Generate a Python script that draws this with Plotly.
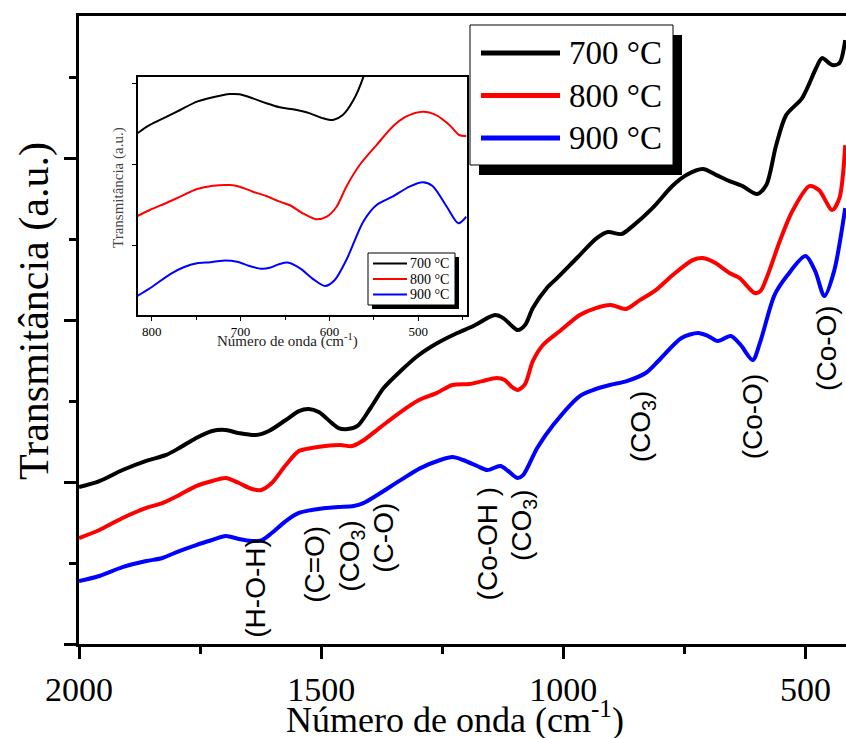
import plotly.graph_objects as go

# ---------------- main spectra (offset per calcination temperature) ----------------
wn_700 = [2000, 1958, 1910, 1861, 1820, 1793, 1758, 1725, 1697, 1670, 1635, 1608, 1573, 1546, 1526,
          1505, 1478, 1464, 1445, 1425, 1398, 1371, 1336, 1301, 1260, 1219, 1186, 1157, 1141, 1124,
          1106, 1094, 1079, 1063, 1034, 1013, 972, 931, 908, 880, 857, 816, 775, 746, 712,
          684, 657, 630, 600, 581, 561, 540, 507, 478, 466, 445, 430, 418]
t_700 = [0.969, 1.006, 1.074, 1.130, 1.167, 1.210, 1.272, 1.315, 1.321, 1.302, 1.290, 1.315, 1.383, 1.438, 1.451,
         1.432, 1.364, 1.333, 1.327, 1.346, 1.457, 1.580, 1.685, 1.778, 1.858, 1.920, 1.963, 2.012, 2.031, 2.012,
         1.963, 1.938, 1.969, 2.074, 2.198, 2.259, 2.383, 2.506, 2.543, 2.531, 2.580, 2.691, 2.827, 2.895, 2.932,
         2.895, 2.858, 2.827, 2.778, 2.833, 3.074, 3.265, 3.370, 3.556, 3.617, 3.574, 3.586, 3.728]

wn_800 = [2000, 1958, 1910, 1861, 1828, 1793, 1758, 1725, 1697, 1670, 1643, 1624, 1602, 1573, 1546,
          1520, 1491, 1460, 1436, 1415, 1380, 1339, 1298, 1262, 1229, 1194, 1167, 1138, 1121, 1106,
          1094, 1079, 1063, 1042, 1007, 966, 933, 902, 871, 842, 809, 774, 733, 712, 686,
          657, 636, 605, 593, 578, 553, 527, 492, 472, 445, 430, 418]
t_800 = [0.654, 0.704, 0.778, 0.840, 0.870, 0.920, 0.975, 1.006, 1.025, 0.994, 0.957, 0.951, 0.994, 1.105, 1.191,
         1.210, 1.222, 1.228, 1.222, 1.253, 1.333, 1.426, 1.506, 1.549, 1.599, 1.605, 1.623, 1.642, 1.630, 1.586,
         1.568, 1.605, 1.747, 1.846, 1.932, 2.031, 2.074, 2.093, 2.068, 2.123, 2.185, 2.278, 2.370, 2.383, 2.352,
         2.290, 2.259, 2.167, 2.179, 2.278, 2.488, 2.673, 2.827, 2.802, 2.679, 2.753, 3.080]

wn_900 = [2000, 1958, 1910, 1861, 1828, 1793, 1758, 1725, 1697, 1670, 1643, 1622, 1602, 1573, 1546,
          1520, 1491, 1464, 1433, 1413, 1384, 1336, 1295, 1254, 1229, 1207, 1178, 1157, 1130, 1114,
          1095, 1083, 1054, 1021, 966, 939, 904, 869, 830, 804, 756, 722, 701, 681, 654,
          634, 609, 593, 564, 537, 500, 480, 461, 441, 418]
t_900 = [0.389, 0.420, 0.475, 0.512, 0.531, 0.574, 0.611, 0.642, 0.667, 0.648, 0.636, 0.642, 0.685, 0.759, 0.809,
         0.827, 0.840, 0.846, 0.852, 0.870, 0.920, 1.012, 1.086, 1.136, 1.154, 1.136, 1.099, 1.074, 1.099, 1.068,
         1.025, 1.043, 1.210, 1.352, 1.531, 1.568, 1.599, 1.623, 1.673, 1.747, 1.889, 1.920, 1.901, 1.870, 1.901,
         1.846, 1.753, 1.870, 2.154, 2.278, 2.395, 2.302, 2.148, 2.302, 2.691]

# ---------------- inset: 816-446 cm-1 region, own vertical scale ----------------
wn_in_700 = [816, 802, 783, 768, 749, 731, 712, 701, 686, 671, 656, 641, 622, 607, 596, 585, 573, 562, 555]
t_in_700 = [2.383, 2.485, 2.587, 2.669, 2.771, 2.825, 2.865, 2.861, 2.812, 2.751, 2.702, 2.677, 2.628,
            2.567, 2.546, 2.607, 2.791, 3.070, 3.340]

wn_in_800 = [816, 802, 783, 768, 749, 731, 712, 701, 686, 671, 656, 645, 630, 615, 603,
             592, 581, 566, 547, 529, 514, 495, 480, 465, 454, 446]
t_in_800 = [1.368, 1.442, 1.531, 1.605, 1.699, 1.740, 1.748, 1.728, 1.666, 1.613, 1.544, 1.503, 1.401, 1.328, 1.360,
            1.482, 1.728, 1.994, 2.239, 2.464, 2.587, 2.648, 2.607, 2.485, 2.362, 2.350]

wn_in_900 = [816, 802, 779, 764, 749, 734, 720, 704, 690, 676, 667, 656, 646, 633, 618,
             605, 594, 581, 562, 547, 529, 510, 495, 484, 468, 455, 446]
t_in_900 = [0.387, 0.481, 0.656, 0.739, 0.788, 0.800, 0.820, 0.807, 0.755, 0.721, 0.734, 0.779, 0.795, 0.726, 0.591,
            0.509, 0.583, 0.828, 1.298, 1.503, 1.605, 1.728, 1.782, 1.736, 1.482, 1.279, 1.360]

series_names = ["700 °C", "800 °C", "900 °C"]
series_colors = ["#000000", "#ff0000", "#0000ff"]

# band assignments: (label, wavenumber, vertical position)
band_labels = ["(H-O-H)", "(C=O)", "(CO<sub>3</sub>)", "(C-O)", "(Co-OH )", "(CO<sub>3</sub>)",
               "(CO<sub>3</sub>)", "(Co-O)", "(Co-O)"]
band_wn = [1635, 1513, 1439, 1373, 1157, 1081, 835, 610, 458]
band_y = [0.346, 0.494, 0.543, 0.654, 0.623, 0.735, 1.346, 1.407, 1.827]

x_title = "Número de onda (cm<sup>-1</sup>)"
y_title = "Transmitância (a.u.)"

SERIF = "Liberation Serif"
SANS = "Liberation Sans"

W, H = 846, 738
ML, MR, MT, MB = 79, 0, 16, 94
PW, PH = W - ML - MR, H - MT - MB


def px_x(x):
    return (x - ML) / PW


def px_y(y):
    return (H - MB - y) / PH


fig = go.Figure()

main_sets = [(wn_700, t_700), (wn_800, t_800), (wn_900, t_900)]
inset_sets = [(wn_in_700, t_in_700), (wn_in_800, t_in_800), (wn_in_900, t_in_900)]

for (wx, ty), name, col in zip(main_sets, series_names, series_colors):
    fig.add_trace(go.Scatter(x=wx, y=ty, mode="lines", name=name, showlegend=False,
                             line=dict(color=col, width=4, shape="spline", smoothing=0.8),
                             xaxis="x", yaxis="y"))

for (wx, ty), name, col in zip(inset_sets, series_names, series_colors):
    fig.add_trace(go.Scatter(x=wx, y=ty, mode="lines", name=name, showlegend=False,
                             line=dict(color=col, width=2, shape="spline", smoothing=0.8),
                             xaxis="x2", yaxis="y2"))

shapes = []
annotations = []

# main legend box with drop shadow
shapes.append(dict(type="rect", xref="paper", yref="paper", x0=px_x(479), x1=px_x(682),
                   y0=px_y(175), y1=px_y(35), fillcolor="black", line=dict(width=0)))
shapes.append(dict(type="rect", xref="paper", yref="paper", x0=px_x(470), x1=px_x(673),
                   y0=px_y(165), y1=px_y(25), fillcolor="white", line=dict(color="black", width=1)))
for i, (name, col) in enumerate(zip(series_names, series_colors)):
    yy = 53 + i * 42.5
    shapes.append(dict(type="line", xref="paper", yref="paper", x0=px_x(481), x1=px_x(560),
                       y0=px_y(yy), y1=px_y(yy), line=dict(color=col, width=5)))
    annotations.append(dict(xref="paper", yref="paper", x=px_x(567), y=px_y(yy), text=name,
                            showarrow=False, xanchor="left", yanchor="middle",
                            font=dict(family=SERIF, size=33, color="black")))

# inset legend box with drop shadow
shapes.append(dict(type="rect", xref="paper", yref="paper", x0=px_x(372), x1=px_x(459),
                   y0=px_y(309), y1=px_y(257), fillcolor="black", line=dict(width=0)))
shapes.append(dict(type="rect", xref="paper", yref="paper", x0=px_x(368), x1=px_x(455),
                   y0=px_y(305), y1=px_y(253), fillcolor="white", line=dict(color="black", width=1)))
for i, (name, col) in enumerate(zip(series_names, series_colors)):
    yy = 263.5 + i * 15.5
    shapes.append(dict(type="line", xref="paper", yref="paper", x0=px_x(373), x1=px_x(407),
                       y0=px_y(yy), y1=px_y(yy), line=dict(color=col, width=2)))
    annotations.append(dict(xref="paper", yref="paper", x=px_x(408), y=px_y(yy), text=name,
                            showarrow=False, xanchor="left", yanchor="middle",
                            font=dict(family=SERIF, size=14, color="black")))

# band assignment labels
for lab, wx, yy in zip(band_labels, band_wn, band_y):
    annotations.append(dict(xref="x", yref="y", x=wx, y=yy, text=lab, textangle=-90,
                            showarrow=False, xanchor="center", yanchor="middle",
                            font=dict(family=SANS, size=28, color="black")))

# axis titles (main and inset)
annotations.append(dict(xref="paper", yref="paper", x=px_x(455), y=px_y(717), text=x_title,
                        showarrow=False, xanchor="center", yanchor="middle",
                        font=dict(family=SERIF, size=36, color="black")))
annotations.append(dict(xref="paper", yref="paper", x=px_x(35), y=px_y(311), text=y_title,
                        textangle=-90, showarrow=False, xanchor="center", yanchor="middle",
                        font=dict(family=SERIF, size=42, color="black")))
annotations.append(dict(xref="paper", yref="paper", x=px_x(287), y=px_y(340), text=x_title,
                        showarrow=False, xanchor="center", yanchor="middle",
                        font=dict(family=SERIF, size=15, color="#222222")))
annotations.append(dict(xref="paper", yref="paper", x=px_x(118), y=px_y(188), text=y_title,
                        textangle=-90, showarrow=False, xanchor="center", yanchor="middle",
                        font=dict(family=SERIF, size=15, color="#444444")))

fig.update_layout(
    width=W, height=H,
    margin=dict(l=ML, r=MR, t=MT, b=MB, pad=0),
    paper_bgcolor="white", plot_bgcolor="white",
    showlegend=False,
    shapes=shapes, annotations=annotations,
    xaxis=dict(
        domain=[0, 1], range=[2000, 416.4], anchor="y",
        tickmode="linear", tick0=0, dtick=500,
        ticks="outside", ticklen=12, tickwidth=3, tickcolor="black",
        minor=dict(ticks="outside", ticklen=7, tickwidth=3, tickcolor="black", dtick=250, tick0=0),
        showline=True, linewidth=3, linecolor="black", mirror=True,
        showgrid=False, zeroline=False,
        tickfont=dict(family=SERIF, size=34, color="black"),
        ticklabelstandoff=1,
    ),
    yaxis=dict(
        domain=[0, 1], range=[0, 3.877], anchor="x",
        tickmode="linear", tick0=0, dtick=1,
        ticks="outside", ticklen=12, tickwidth=3, tickcolor="black",
        minor=dict(ticks="outside", ticklen=7, tickwidth=3, tickcolor="black", dtick=0.5, tick0=0),
        showticklabels=False,
        showline=True, linewidth=3, linecolor="black", mirror=False,
        showgrid=False, zeroline=False,
    ),
    xaxis2=dict(
        domain=[px_x(137.7), px_x(466.7)], range=[815.7, 445.6], anchor="y2",
        tickmode="linear", tick0=0, dtick=100,
        ticks="outside", ticklen=4, tickwidth=1, tickcolor="black",
        minor=dict(ticks="outside", ticklen=3, tickwidth=1, tickcolor="black", dtick=50, tick0=0),
        showline=True, linewidth=1.5, linecolor="black", mirror=True,
        showgrid=False, zeroline=False,
        tickfont=dict(family=SERIF, size=13, color="black"),
    ),
    yaxis2=dict(
        domain=[px_y(315), px_y(77)], range=[0.153, 3.074], anchor="x2",
        tickmode="linear", tick0=0, dtick=1,
        ticks="outside", ticklen=4, tickwidth=1, tickcolor="black",
        showticklabels=False,
        showline=True, linewidth=1.5, linecolor="black", mirror=True,
        showgrid=False, zeroline=False,
    ),
)

fig.write_html("out.html")
